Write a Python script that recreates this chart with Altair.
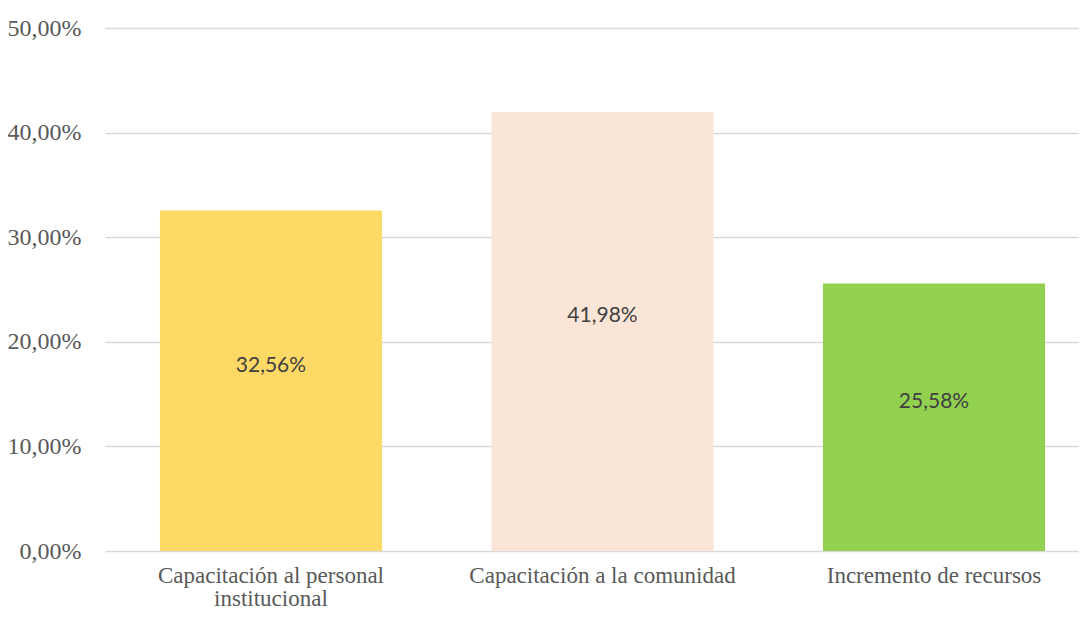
import altair as alt
import pandas as pd

categories = [
    "Capacitación al personal institucional",
    "Capacitación a la comunidad",
    "Incremento de recursos",
]
values = [32.56, 41.98, 25.58]
colors = ["#FFD966", "#FBE5D6", "#92D050"]
y_ticks = [0, 10, 20, 30, 40, 50]

df = pd.DataFrame({"cat": categories, "val": values, "color": colors})

x_scale = alt.Scale(paddingInner=0.33, paddingOuter=0.134, align=0.618)

x_enc = alt.X(
    "cat:N",
    sort=categories,
    title=None,
    scale=x_scale,
    axis=alt.Axis(
        labelAngle=0,
        labelFont="Liberation Serif",
        labelFontSize=23,
        labelColor="#595959",
        ticks=False,
        domain=False,
        labelPadding=13,
        labelLimit=500,
        labelLineHeight=23,
        labelExpr="datum.label == 'Capacitación al personal institucional' ? ['Capacitación al personal', 'institucional'] : datum.label",
    ),
)

y_enc = alt.Y(
    "val:Q",
    title=None,
    scale=alt.Scale(domain=[0, 50], nice=False),
    axis=alt.Axis(
        values=y_ticks,
        labelExpr="replace(format(datum.value, '.2f'), '.', ',') + '%'",
        grid=True,
        gridColor="#D9D9D9",
        gridWidth=1.5,
        ticks=False,
        domain=False,
        labelPadding=24,
        labelFont="Liberation Serif",
        labelFontSize=24,
        labelColor="#595959",
    ),
)

base = alt.Chart(df)

bars = base.mark_bar().encode(
    x=x_enc,
    y=y_enc,
    color=alt.Color("color:N", scale=None),
)

text = base.transform_calculate(
    mid="datum.val / 2",
    label="replace(format(datum.val, '.2f'), '.', ',') + '%'",
).mark_text(font="Lato", fontSize=21, color="#404040", dy=-15, baseline="middle").encode(
    x=alt.X("cat:N", sort=categories, scale=x_scale),
    y=alt.Y("mid:Q"),
    text="label:N",
)

chart = (
    alt.layer(bars, text)
    .properties(
        width=974,
        height=523,
        autosize="none",
        padding={"left": 97, "top": 20, "right": 0, "bottom": 58},
    )
    .configure_view(stroke=None)
)

chart.save("out.html", embed_options={"renderer": "svg", "actions": False})
